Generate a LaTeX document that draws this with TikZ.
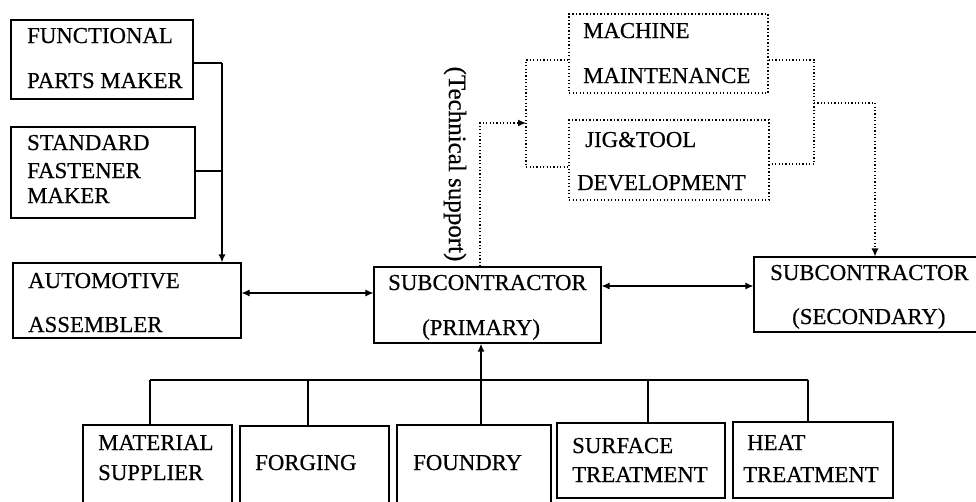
\documentclass[tikz,border=0pt]{standalone}
\usepackage{fontspec}
\setmainfont{Liberation Serif}[FakeBold=0.5]
\usetikzlibrary{arrows.meta,fit}
\begin{document}
\begin{tikzpicture}[x=1pt,y=-1pt,
  box/.style={draw, line width=1.1pt, inner sep=0pt},
  dbox/.style={draw, line width=1.3pt, dash pattern=on 1.3pt off 2.2pt, inner sep=0pt},
  txt/.style={anchor=base west, inner sep=0pt, font=\fontsize{22.8}{27}\selectfont},
  link/.style={line width=1.1pt},
  feed/.style={line width=1.6pt},
  dlink/.style={line width=1.2pt, dash pattern=on 1.2pt off 2.2pt},
  tip/.style={-{Latex[length=8pt,width=7pt]}},
  both/.style={{Latex[length=8pt,width=7pt]}-{Latex[length=8pt,width=7pt]}},
]
\useasboundingbox (0,0) rectangle (976,501);
\clip (0,0) rectangle (976,501);

% suppliers of the assembler
\node[box, fit={(11,20) (193,99)}] (fpm) {};
\node[txt] (fpm1) at (27,43) {FUNCTIONAL};
\node[txt] (fpm2) at (27,88) {PARTS MAKER};

\node[box, fit={(11,127) (195,218)}] (sfm) {};
\node[txt] (sfm1) at (27,150) {STANDARD};
\node[txt] (sfm2) at (27,178) {FASTENER};
\node[txt] (sfm3) at (27,203) {MAKER};

% middle row
\node[box, fit={(13,263) (241,338)}] (aa) {};
\node[txt] (aa1) at (28,288) {AUTOMOTIVE};
\node[txt] (aa2) at (28,332) {ASSEMBLER};

\node[box, fit={(374,267) (601,343)}] (scp) {};
\node[txt] (scp1) at (388,290) {SUBCONTRACTOR};
\node[txt] (scp2) at (422,335) {(PRIMARY)};

\node[box, fit={(754,257) (1000,332)}] (scs) {};
\node[txt] (scs1) at (770,280) {SUBCONTRACTOR};
\node[txt] (scs2) at (792,324) {(SECONDARY)};

% technical support services
\node[dbox, fit={(569,14) (768,93)}] (mm) {};
\node[txt] (mm1) at (583,38) {MACHINE};
\node[txt] (mm2) at (583,83) {MAINTENANCE};

\node[dbox, fit={(569,120) (769,200)}] (jtd) {};
\node[txt] (jtd1) at (585,147) {JIG\&TOOL};
\node[txt] (jtd2) at (577,190) {DEVELOPMENT};

% process suppliers
\node[box, fit={(83,425) (232,520)}] (ms) {};
\node[txt] (ms1) at (98,450) {MATERIAL};
\node[txt] (ms2) at (98,480) {SUPPLIER};

\node[box, fit={(240,426) (389,520)}] (fg) {};
\node[txt] (fg1) at (255,470) {FORGING};

\node[box, fit={(397,425) (551,520)}] (fd) {};
\node[txt] (fd1) at (413,470) {FOUNDRY};

\node[box, fit={(557,423) (725,498)}] (st) {};
\node[txt] (st1) at (572,453) {SURFACE};
\node[txt] (st2) at (572,482) {TREATMENT};

\node[box, fit={(733,422) (893,498)}] (ht) {};
\node[txt] (ht1) at (747,450) {HEAT};
\node[txt] (ht2) at (743,482) {TREATMENT};

\node[rotate=-90, inner sep=0pt, font=\fontsize{25}{28}\selectfont] (tsup) at (455,164) {(Technical support)};

% makers feeding the assembler
\coordinate (jx) at (222,0);
\draw[link] (fpm.east |- 0,63) -- (jx |- 0,63);
\draw[feed, tip] (jx |- 0,63) -- (aa.north -| jx);
\draw[link] (sfm.east |- 0,171) -- (jx |- 0,171);

% two-way links along the middle row
\draw[link, both] (aa.east |- 0,293) -- (scp.west |- 0,293);
\draw[link, both] (scp.east |- 0,286) -- (scs.west |- 0,286);

% process suppliers bus
\coordinate (bus) at (0,380);
\draw[link] (150,0 |- bus) -- (808,0 |- bus);
\draw[feed] (ms.north -| 150,0) -- (bus -| 150,0);
\draw[feed] (fg.north -| 308,0) -- (bus -| 308,0);
\draw[feed] (st.north -| 648,0) -- (bus -| 648,0);
\draw[feed] (ht.north -| 808,0) -- (bus -| 808,0);
\draw[feed, tip] (fd.north -| 481,0) -- (scp.south -| 481,0);

% technical support loop
\coordinate (lb) at (526,0);
\coordinate (rb) at (814,0);
\draw[dlink] (mm.west |- 0,60) -- (lb |- 0,60) -- (lb |- 0,167) -- (jtd.west |- 0,167);
\draw[dlink, tip] (scp.north -| 480,0) -- (480,123) -- (lb |- 0,123);
\draw[dlink] (mm.east |- 0,60) -- (rb |- 0,60) -- (rb |- 0,164) -- (jtd.east |- 0,164);
\draw[dlink, tip] (rb |- 0,103) -- (875,103) -- (scs.north -| 875,0);
\end{tikzpicture}
\end{document}
